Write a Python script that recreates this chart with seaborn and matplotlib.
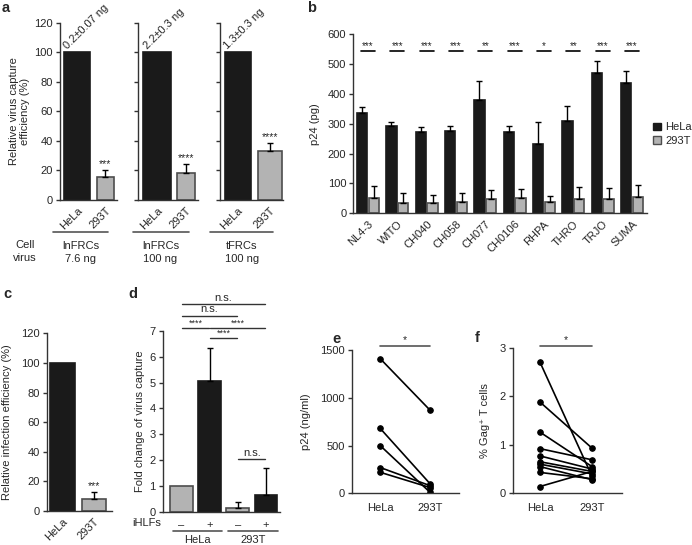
import pandas as pd
import seaborn as sns
import matplotlib.pyplot as plt

# ---- data ----
# panel a
a_cells = ["HeLa", "293T"]
a_groups = ["lnFRCs\n7.6 ng", "lnFRCs\n100 ng", "tFRCs\n100 ng"]
a_hela = [100, 100, 100]
a_293t = [15.5, 18.5, 33.2]
a_293t_err = [4.8, 5.8, 5.5]
a_input = ["0.2±0.07 ng", "2.2±0.3 ng", "1.3±0.3 ng"]
a_stars = ["***", "****", "****"]

# panel b
b_strains = ["NL4-3", "WITO", "CH040", "CH058", "CH077", "CH0106", "RHPA", "THRO", "TRJO", "SUMA"]
b_hela = [335, 293, 274, 277, 381, 274, 232, 308, 471, 437]
b_hela_err = [22, 14, 14, 16, 63, 19, 75, 50, 41, 40]
b_293t = [50, 36, 36, 39, 47, 50, 39, 47, 47, 54]
b_293t_err = [42, 33, 27, 28, 31, 32, 20, 42, 38, 41]
b_stars = ["***", "***", "***", "***", "**", "***", "*", "**", "***", "***"]

# panel c
c_cells = ["HeLa", "293T"]
c_vals = [100, 8.2]
c_err = [0, 4.8]

# panel d
d_bars = ["HeLa -", "HeLa +", "293T -", "293T +"]
d_signs = ["\u2013", "+", "\u2013", "+"]
d_vals = [1.0, 5.07, 0.13, 0.64]
d_err = [0, 1.29, 0.23, 1.06]
d_pairs = [(0, 3), (0, 2), (0, 1), (1, 3), (1, 2), (2, 3)]
d_pair_labels = ["n.s.", "n.s.", "****", "****", "****", "n.s."]

# panel e
e_cells = ["HeLa", "293T"]
e_hela = [1410, 680, 500, 270, 220]
e_293t = [870, 100, 10, 80, 60]

# panel f
f_cells = ["HeLa", "293T"]
f_hela = [2.70, 1.88, 1.26, 0.92, 0.77, 0.65, 0.60, 0.55, 0.43, 0.14]
f_293t = [0.35, 0.93, 0.55, 0.69, 0.50, 0.45, 0.40, 0.28, 0.30, 0.45]

# ---- style ----
sns.set_style("ticks")
plt.rcParams["font.family"] = ["Liberation Sans", "DejaVu Sans"]
FS = 8
plt.rcParams["font.size"] = FS

BLACK = "#1a1a1a"
GREY = "#b3b3b3"
EDGE = "#4d4d4d"
SPINE = "#333333"

W, H = 692, 545
fig = plt.figure(figsize=(W / 100, H / 100), dpi=100)


def add_ax(l, t, r, b):
    return fig.add_axes([l / W, 1 - b / H, (r - l) / W, (b - t) / H])


def ftext(x, y, s, **kw):
    fig.text(x / W, 1 - y / H, s, **kw)


def style(ax):
    sns.despine(ax=ax)
    for sp in ["left", "bottom"]:
        ax.spines[sp].set_color(SPINE)
        ax.spines[sp].set_linewidth(1.0)
    ax.tick_params(axis="y", length=3, width=1, color=SPINE, labelsize=FS, pad=2)
    ax.tick_params(axis="x", length=0, labelsize=FS)
    ax.set_xlabel("")
    ax.set_ylabel("")


def ylab(ax, text, xpx, l, r):
    ax.set_ylabel(text, fontsize=FS, linespacing=1.2)
    ax.yaxis.set_label_coords((xpx - l) / (r - l), 0.5)
    ax.yaxis.label.set_va("center")


def upper_err(ax, x, y, e):
    ax.errorbar(x, y, yerr=[[0], [e]], fmt="none", ecolor="k", elinewidth=1,
                capsize=2.5, capthick=1, zorder=3)


# ---- panel a ----
a_pos = [(60, 117), (137.7, 198), (220, 283)]
a_widths = [(0.92, 0.61), (0.95, 0.64), (0.8, 0.74)]
a_xlim = [(-0.6, 1.41), (-0.67, 1.42), (-0.55, 1.4)]
for i in range(3):
    l, r = a_pos[i]
    ax = add_ax(l, 22.7, r, 200)
    df = pd.DataFrame({"cell": a_cells, "val": [a_hela[i], a_293t[i]]})
    sns.barplot(data=df, x="cell", y="val", hue="cell", palette=[BLACK, GREY],
                legend=False, ax=ax, linewidth=1.2)
    for p, w, ec in zip(ax.patches, a_widths[i], [BLACK, EDGE]):
        cx = p.get_x() + p.get_width() / 2
        p.set_width(w)
        p.set_x(cx - w / 2)
        p.set_edgecolor(ec)
    upper_err(ax, 1, a_293t[i], a_293t_err[i])
    ax.text(1, a_293t[i] + a_293t_err[i] + 0.5, a_stars[i], ha="center", va="bottom", fontsize=7.5)
    ax.text(-0.28, 101, a_input[i], rotation=45, rotation_mode="anchor",
            ha="left", va="bottom", fontsize=FS)
    style(ax)
    ax.set_ylim(0, 120)
    ax.set_yticks(range(0, 121, 20))
    if i > 0:
        ax.set_yticklabels([])
    ax.set_xlim(*a_xlim[i])
    ax.set_xticks([0, 1])
    ax.set_xticklabels(a_cells, rotation=45, ha="right", rotation_mode="anchor")
    ax.tick_params(axis="x", pad=4)
    tr = ax.get_xaxis_transform()
    ax.plot([-0.85, 1.1], [-0.18, -0.18], transform=tr, clip_on=False, color="#555555", lw=1.2)
    ax.text(0.12, -0.295, a_groups[i], transform=tr, ha="center", va="center", linespacing=1.3)
    if i == 0:
        ylab(ax, "Relative virus capture\nefficiency (%)", 19.5, l, r)
ftext(25, 251.5, "Cell\nvirus", ha="center", va="center", linespacing=1.3)

# ---- panel b ----
axb = add_ax(353.3, 34.3, 646.7, 213.3)
dfb = pd.DataFrame({"strain": b_strains * 2,
                    "cell": ["HeLa"] * len(b_strains) + ["293T"] * len(b_strains),
                    "val": b_hela + b_293t})
sns.barplot(data=dfb, x="strain", y="val", hue="cell", palette=[BLACK, GREY],
            width=0.8, gap=0.1, ax=axb, linewidth=1.2)
conts = list(axb.containers[:2])
for cont, errs, ec in zip(conts, [b_hela_err, b_293t_err], [BLACK, EDGE]):
    for bar, e in zip(cont, errs):
        bar.set_edgecolor(ec)
        upper_err(axb, bar.get_x() + bar.get_width() / 2, bar.get_height(), e)
for i, s in enumerate(b_stars):
    axb.plot([i - 0.24, i + 0.24], [545, 545], color="k", lw=1.2)
    axb.text(i, 551, s, ha="center", va="baseline", fontsize=7)
style(axb)
axb.set_ylim(0, 600)
axb.set_yticks(range(0, 601, 100))
axb.set_xlim(-0.5, 9.5)
axb.set_xticks(range(len(b_strains)))
axb.set_xticklabels(b_strains, rotation=45, ha="right", rotation_mode="anchor")
axb.tick_params(axis="x", pad=4)
ylab(axb, "p24 (pg)", 315, 353.3, 646.7)
sns.move_legend(axb, "center left", bbox_to_anchor=(1.0, 0.443), frameon=False, title=None,
                handlelength=0.7, handleheight=0.7, handletextpad=0.4, labelspacing=0.3,
                borderaxespad=0.2, fontsize=FS)
for h, ec in zip(axb.get_legend().legend_handles, [BLACK, EDGE]):
    h.set_edgecolor(ec)
    h.set_linewidth(1)

# ---- panel c ----
axc = add_ax(46.7, 333.3, 111.7, 511)
dfc = pd.DataFrame({"cell": c_cells, "val": c_vals})
sns.barplot(data=dfc, x="cell", y="val", hue="cell", palette=[BLACK, GREY],
            legend=False, width=0.79, ax=axc, linewidth=1.2)
for p, ec in zip(axc.patches, [BLACK, EDGE]):
    p.set_edgecolor(ec)
upper_err(axc, 1, c_vals[1], c_err[1])
axc.text(1, c_vals[1] + c_err[1] + 0.5, "***", ha="center", va="bottom", fontsize=7.5)
style(axc)
axc.set_ylim(0, 120)
axc.set_yticks(range(0, 121, 20))
axc.set_xlim(-0.5, 1.56)
axc.set_xticks([0, 1])
axc.set_xticklabels(c_cells, rotation=45, ha="right", rotation_mode="anchor")
axc.tick_params(axis="x", pad=4)
ylab(axc, "Relative infection efficiency (%)", 7.5, 46.7, 111.7)

# ---- panel d ----
axd = add_ax(162.7, 331, 280, 511.7)
dfd = pd.DataFrame({"bar": d_bars, "val": d_vals})
sns.barplot(data=dfd, x="bar", y="val", hue="bar", palette=[GREY, BLACK, GREY, BLACK],
            legend=False, width=0.8, ax=axd, linewidth=1.2)
for p, ec in zip(axd.patches, [EDGE, BLACK, EDGE, BLACK]):
    p.set_edgecolor(ec)
for i in range(1, 4):
    upper_err(axd, i, d_vals[i], d_err[i])
d_bracket_y = [8.03, 7.59, 7.13, 7.13, 6.74, 2.04]
for (x0, x1), lab, y in zip(d_pairs, d_pair_labels, d_bracket_y):
    axd.plot([x0 + 0.02, x1 - 0.02], [y, y], color=SPINE, lw=1, clip_on=False)
    if lab == "n.s.":
        axd.text((x0 + x1) / 2, y + 0.05, lab, ha="center", va="bottom", fontsize=FS)
    else:
        axd.text((x0 + x1) / 2, y + 0.08, lab, ha="center", va="baseline", fontsize=6.5)
style(axd)
axd.set_ylim(0, 7)
axd.set_yticks(range(0, 8))
axd.set_xlim(-0.66, 3.5)
axd.set_xticks(range(4))
axd.set_xticklabels(d_signs)
axd.tick_params(axis="x", pad=6)
trd = axd.get_xaxis_transform()
for (x0, x1), name in zip([(-0.3, 1.45), (1.65, 3.42)], ["HeLa", "293T"]):
    axd.plot([x0, x1], [-0.107, -0.107], transform=trd, clip_on=False, color="#555555", lw=1.2)
    axd.text((x0 + x1) / 2, -0.155, name, transform=trd, ha="center", va="center")
ftext(146.7, 523, "iHLFs", ha="center", va="center")
ylab(axd, "Fold change of virus capture", 140, 162.7, 280)

# ---- panel e ----
axe = add_ax(351.7, 350, 459, 493.3)
dfe = pd.DataFrame({"pair": list(range(len(e_hela))) * 2,
                    "pos": [0] * len(e_hela) + [1] * len(e_293t),
                    "val": e_hela + e_293t})
sns.lineplot(data=dfe, x="pos", y="val", units="pair", estimator=None, color="k",
             marker="o", markersize=4, markeredgecolor="k", lw=1.2, ax=axe)
style(axe)
axe.set_ylim(0, 1500)
axe.set_yticks([0, 500, 1000, 1500])
axe.set_xlim(-0.57, 1.58)
axe.set_xticks([0, 1])
axe.set_xticklabels(e_cells)
axe.tick_params(axis="x", pad=7)
axe.plot([0, 1], [1545, 1545], color="#555555", lw=1.2, clip_on=False)
axe.text(0.5, 1575, "*", ha="center", va="baseline", fontsize=7.5)
ylab(axe, "p24 (ng/ml)", 306, 351.7, 459)

# ---- panel f ----
axf = add_ax(512.7, 347.7, 621.7, 493.3)
dff = pd.DataFrame({"pair": list(range(len(f_hela))) * 2,
                    "pos": [0] * len(f_hela) + [1] * len(f_293t),
                    "val": f_hela + f_293t})
sns.lineplot(data=dff, x="pos", y="val", units="pair", estimator=None, color="k",
             marker="o", markersize=4, markeredgecolor="k", lw=1.2, ax=axf)
style(axf)
axf.set_ylim(0, 3)
axf.set_yticks([0, 1, 2, 3])
axf.set_xlim(-0.525, 1.57)
axf.set_xticks([0, 1])
axf.set_xticklabels(f_cells)
axf.tick_params(axis="x", pad=7)
axf.plot([0, 1], [3.04, 3.04], color="#555555", lw=1.2, clip_on=False)
axf.text(0.5, 3.10, "*", ha="center", va="baseline", fontsize=7.5)
ylab(axf, "% Gag\u207a T cells", 485, 512.7, 621.7)

# ---- panel letters ----
for x, y, s in [(1.7, 11.7, "a"), (306.7, 11.7, "b"), (3.3, 298, "c"),
                (128.3, 298, "d"), (332, 343, "e"), (475, 342, "f")]:
    ftext(x, y, s, fontsize=10.5, fontweight="bold", va="baseline")

fig.savefig("out.png", dpi=100)
